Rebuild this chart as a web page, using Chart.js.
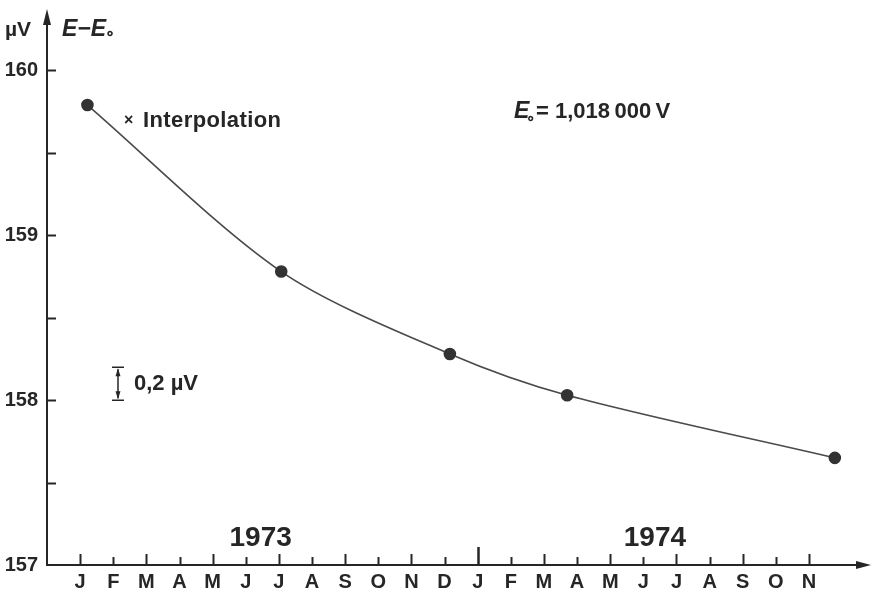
<!DOCTYPE html>
<html>
<head>
<meta charset="utf-8">
<script src="https://cdn.jsdelivr.net/npm/chart.js@4"></script>
<style>
  html, body { margin: 0; padding: 0; background: #fff; }
  #wrap { width: 872px; height: 595px; }
</style>
</head>
<body>
<div id="wrap"><canvas id="emfChart" width="872" height="595"></canvas></div>
<script>
// Months from January 1973 to November 1974 (index 0 = Jan 1973)
const monthLabels = ['J','F','M','A','M','J','J','A','S','O','N','D',
                     'J','F','M','A','M','J','J','A','S','O','N'];
const yearLabels = ['1973', '1974'];
const yearPos = [5.45, 17.35];

// Measurements: month position and E - E0 in microvolts
const measMonth = [0.22, 6.07, 11.16, 14.7, 22.78];
const measEmf = [159.79, 158.78, 158.28, 158.03, 157.65];

const ink = '#262626';
const fontFam = '"Liberation Sans", Arial, sans-serif';

// axes with arrows, inward ticks and the text notes
const decorations = {
    id: 'decorations',
    afterDraw(chart) {
        const ctx = chart.ctx;
        const xs = chart.scales.x;
        const ys = chart.scales.y;
        const x0 = xs.left;
        const y0 = ys.getPixelForValue(157);
        ctx.save();
        ctx.strokeStyle = ink;
        ctx.fillStyle = ink;
        ctx.lineWidth = 2;

        // y axis
        ctx.beginPath();
        ctx.moveTo(x0, y0 + 1);
        ctx.lineTo(x0, 20);
        ctx.stroke();
        ctx.beginPath();
        ctx.moveTo(x0, 9);
        ctx.lineTo(x0 - 4, 25);
        ctx.lineTo(x0 + 4, 25);
        ctx.closePath();
        ctx.fill();

        // x axis
        ctx.beginPath();
        ctx.moveTo(x0, y0);
        ctx.lineTo(858, y0);
        ctx.stroke();
        ctx.beginPath();
        ctx.moveTo(871, y0);
        ctx.lineTo(856, y0 - 4);
        ctx.lineTo(856, y0 + 4);
        ctx.closePath();
        ctx.fill();

        // y ticks pointing inward
        ys.ticks.forEach(t => {
            if (t.value <= 157 || t.value > 160) return;
            const py = Math.round(ys.getPixelForValue(t.value)) + 0.5;
            ctx.beginPath();
            ctx.moveTo(x0, py);
            ctx.lineTo(x0 + 9, py);
            ctx.stroke();
        });

        // month ticks, the year change gets a long one
        monthLabels.forEach((m, i) => {
            const px = Math.round(xs.getPixelForValue(i)) + 0.5;
            let len = (i % 2 === 0) ? 11 : 8;
            if (i === 12) len = 18;
            ctx.lineWidth = (i === 12) ? 2.5 : 2;
            ctx.beginPath();
            ctx.moveTo(px, y0);
            ctx.lineTo(px, y0 - len);
            ctx.stroke();
        });

        // years
        ctx.textAlign = 'center';
        ctx.textBaseline = 'middle';
        ctx.font = 'bold 28px ' + fontFam;
        yearLabels.forEach((yr, i) => {
            ctx.fillText(yr, xs.getPixelForValue(yearPos[i]), 538);
        });

        // axis title
        ctx.textAlign = 'left';
        ctx.font = 'bold 21px ' + fontFam;
        ctx.fillText('\u00b5V', 5, 30);
        ctx.font = 'italic bold 23px ' + fontFam;
        ctx.fillText('E\u2212E', 62, 30);
        let w = ctx.measureText('E\u2212E').width;
        ctx.font = 'bold 16px ' + fontFam;
        ctx.fillText('\u2218', 62 + w - 1, 35);

        // legend note
        ctx.font = 'bold 16px ' + fontFam;
        ctx.fillText('\u00d7', 124, 121);
        ctx.font = 'bold 22px ' + fontFam;
        ctx.letterSpacing = '0.4px';
        ctx.fillText('Interpolation', 143, 121);

        // reference voltage
        ctx.letterSpacing = '0px';
        ctx.font = 'italic bold 23px ' + fontFam;
        ctx.fillText('E', 514, 112);
        ctx.font = 'bold 15px ' + fontFam;
        ctx.fillText('\u2218', 526, 119);
        ctx.font = 'bold 22px ' + fontFam;
        ctx.fillText('= 1,018\u2009000\u2009V', 536, 112);

        // 0,2 uV scale bar
        const bx = 118;
        const bTop = ys.getPixelForValue(158.2);
        const bBot = ys.getPixelForValue(158.0);
        ctx.lineWidth = 1.5;
        ctx.beginPath();
        ctx.moveTo(bx, bTop + 2);
        ctx.lineTo(bx, bBot - 2);
        ctx.moveTo(bx - 6, bTop);
        ctx.lineTo(bx + 6, bTop);
        ctx.moveTo(bx - 6, bBot);
        ctx.lineTo(bx + 6, bBot);
        ctx.stroke();
        ctx.beginPath();
        ctx.moveTo(bx, bTop + 1);
        ctx.lineTo(bx - 2.5, bTop + 9);
        ctx.lineTo(bx + 2.5, bTop + 9);
        ctx.closePath();
        ctx.moveTo(bx, bBot - 1);
        ctx.lineTo(bx - 2.5, bBot - 9);
        ctx.lineTo(bx + 2.5, bBot - 9);
        ctx.closePath();
        ctx.fill();
        ctx.font = 'bold 22px ' + fontFam;
        ctx.fillText('0,2 \u00b5V', 134, (bTop + bBot) / 2);

        ctx.restore();
    }
};

const emfData = {
    datasets: [{
        label: 'E - E0',
        data: measMonth.map((m, i) => ({ x: m, y: measEmf[i] })),
        borderColor: '#4a4a4a',
        borderWidth: 1.6,
        backgroundColor: '#333',
        pointBackgroundColor: '#333',
        pointBorderColor: '#333',
        pointRadius: 5.5,
        tension: 0.3,
        fill: false
    }]
};

const emfConfig = {
    type: 'line',
    data: emfData,
    options: {
        responsive: false,
        animation: false,
        layout: { padding: { left: 0, right: 10, top: 16, bottom: 0 } },
        plugins: {
            legend: { display: false },
            tooltip: { enabled: false }
        },
        scales: {
            x: {
                type: 'linear',
                min: -1,
                max: 23.6,
                grid: { display: false, drawTicks: false },
                border: { display: false },
                afterFit(scale) { scale.height = 30; },
                ticks: {
                    stepSize: 1,
                    autoSkip: false,
                    maxRotation: 0,
                    padding: 5,
                    color: ink,
                    font: { family: fontFam, size: 20, weight: 'bold' },
                    callback(v) {
                        return (Number.isInteger(v) && v >= 0 && v < monthLabels.length) ? monthLabels[v] : '';
                    }
                }
            },
            y: {
                min: 157,
                max: 160.3,
                grid: { display: false, drawTicks: false },
                border: { display: false },
                afterFit(scale) { scale.width = 47; },
                ticks: {
                    stepSize: 0.5,
                    padding: 9,
                    color: ink,
                    font: { family: fontFam, size: 20, weight: 'bold' },
                    callback(v) {
                        return Number.isInteger(v) ? String(v) : '';
                    }
                }
            }
        }
    },
    plugins: [decorations]
};

const emfChart = new Chart(document.getElementById('emfChart'), emfConfig);
</script>
</body>
</html>
